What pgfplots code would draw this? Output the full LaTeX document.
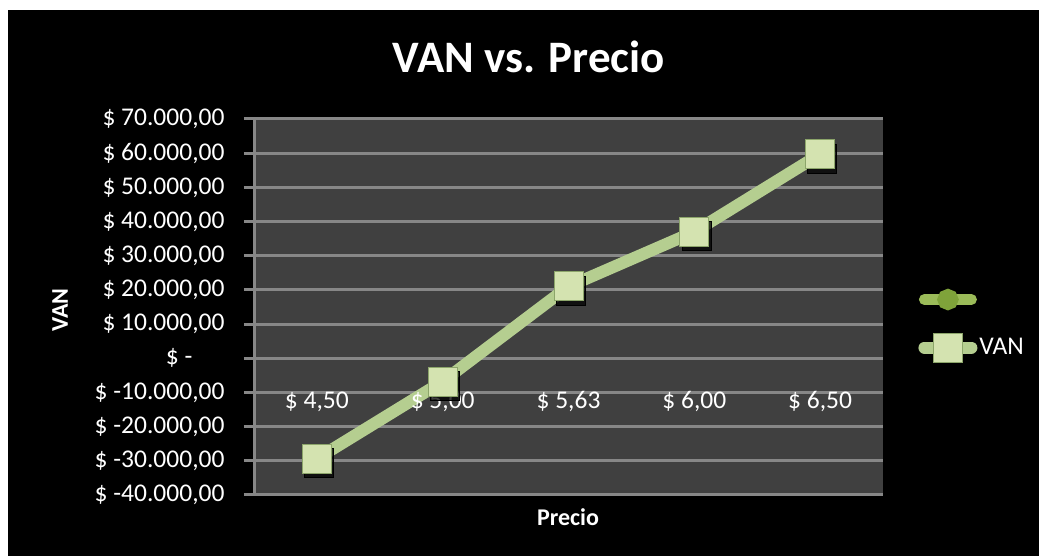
\documentclass[border=0pt]{standalone}
\usepackage{fontspec}
\setmainfont{Carlito}
\usepackage{pgfplots}
\pgfplotsset{compat=1.18}
\definecolor{plotbg}{HTML}{404040}
\definecolor{gridc}{HTML}{878787}
\definecolor{vanline}{HTML}{B5CE90}
\definecolor{vanmark}{HTML}{D4E3B0}
\definecolor{vanedge}{HTML}{8CA56A}
\definecolor{leggreen}{HTML}{9BBB59}
\definecolor{legmark}{HTML}{7FA33A}
\begin{document}
\begin{tikzpicture}[x=1pt,y=1pt]
\useasboundingbox (0,0) rectangle (1039,556);
\fill[white] (0,0) rectangle (1039,556);
\fill[black] (8,0) rectangle (1039,546);
\begin{axis}[
  at={(254pt,61pt)}, anchor=south west,
  scale only axis, width=629pt, height=376pt,
  xmin=-0.5, xmax=4.5, ymin=-40000, ymax=70000,
  axis background/.style={fill=plotbg},
  axis lines*=left,
  axis line style={gridc, line width=3pt},
  scaled y ticks=false,
  ytick={-40000,-30000,-20000,-10000,0,10000,20000,30000,40000,50000,60000,70000},
  yticklabels={{\$ -40.000,00},{\$ -30.000,00},{\$ -20.000,00},{\$ -10.000,00},{\$ -\hspace*{32pt}},{\$ 10.000,00},{\$ 20.000,00},{\$ 30.000,00},{\$ 40.000,00},{\$ 50.000,00},{\$ 60.000,00},{\$ 70.000,00}},
  xtick=\empty,
  ymajorgrids, grid style={gridc, line width=3pt},
  major tick length=10pt, tick align=outside, ytick pos=left,
  tick style={gridc, line width=3pt},
  yticklabel style={font=\fontsize{25.5}{30}\selectfont, text=white, anchor=east, xshift=-16pt},
  legend style={at={(1.056,0.535)}, anchor=north west, draw=none, fill=none,
    text=white, font=\fontsize{25.5}{30}\selectfont, row sep=28pt, inner sep=0pt,
    legend cell align=left},
  legend image code/.code={\draw[mark repeat=2,mark phase=2,line cap=round,#1] plot coordinates {(0pt,0pt) (23.5pt,0pt) (47pt,0pt)};},
  clip=false,
]
\addlegendimage{leggreen, line width=11pt, mark=*, mark size=5pt, mark options={fill=legmark, draw=legmark}}
\addlegendentry{}
\addplot[forget plot, only marks, mark=square*, mark size=14.5pt,
  mark options={fill=black, draw=none, fill opacity=0.75, xshift=2pt, yshift=-4pt}]
  coordinates {(0,-29400) (1,-6800) (2,21000) (3,37000) (4,59700)};
\addplot[vanline, line width=12pt, mark=square*, mark size=14.5pt,
  mark options={fill=vanmark, draw=vanedge, line width=1pt}]
  coordinates {(0,-29400) (1,-6800) (2,21000) (3,37000) (4,59700)};
\addlegendentry{VAN}
\node[anchor=base, text=white, font=\fontsize{25.5}{30}\selectfont] at (axis cs:0,-14600) {\$ 4,50};
\node[anchor=base, text=white, font=\fontsize{25.5}{30}\selectfont] at (axis cs:1,-14600) {\$ 5,00};
\node[anchor=base, text=white, font=\fontsize{25.5}{30}\selectfont] at (axis cs:2,-14600) {\$ 5,63};
\node[anchor=base, text=white, font=\fontsize{25.5}{30}\selectfont] at (axis cs:3,-14600) {\$ 6,00};
\node[anchor=base, text=white, font=\fontsize{25.5}{30}\selectfont] at (axis cs:4,-14600) {\$ 6,50};
\end{axis}
\node[anchor=base, text=white, font=\bfseries\fontsize{45}{54}\selectfont] at (529,483) {VAN vs. Precio};
\node[rotate=90, text=white, font=\bfseries\fontsize{24}{28}\selectfont] at (60,246) {VAN};
\node[text=white, font=\bfseries\fontsize{24}{28}\selectfont] at (568,39) {Precio};
\end{tikzpicture}
\end{document}
